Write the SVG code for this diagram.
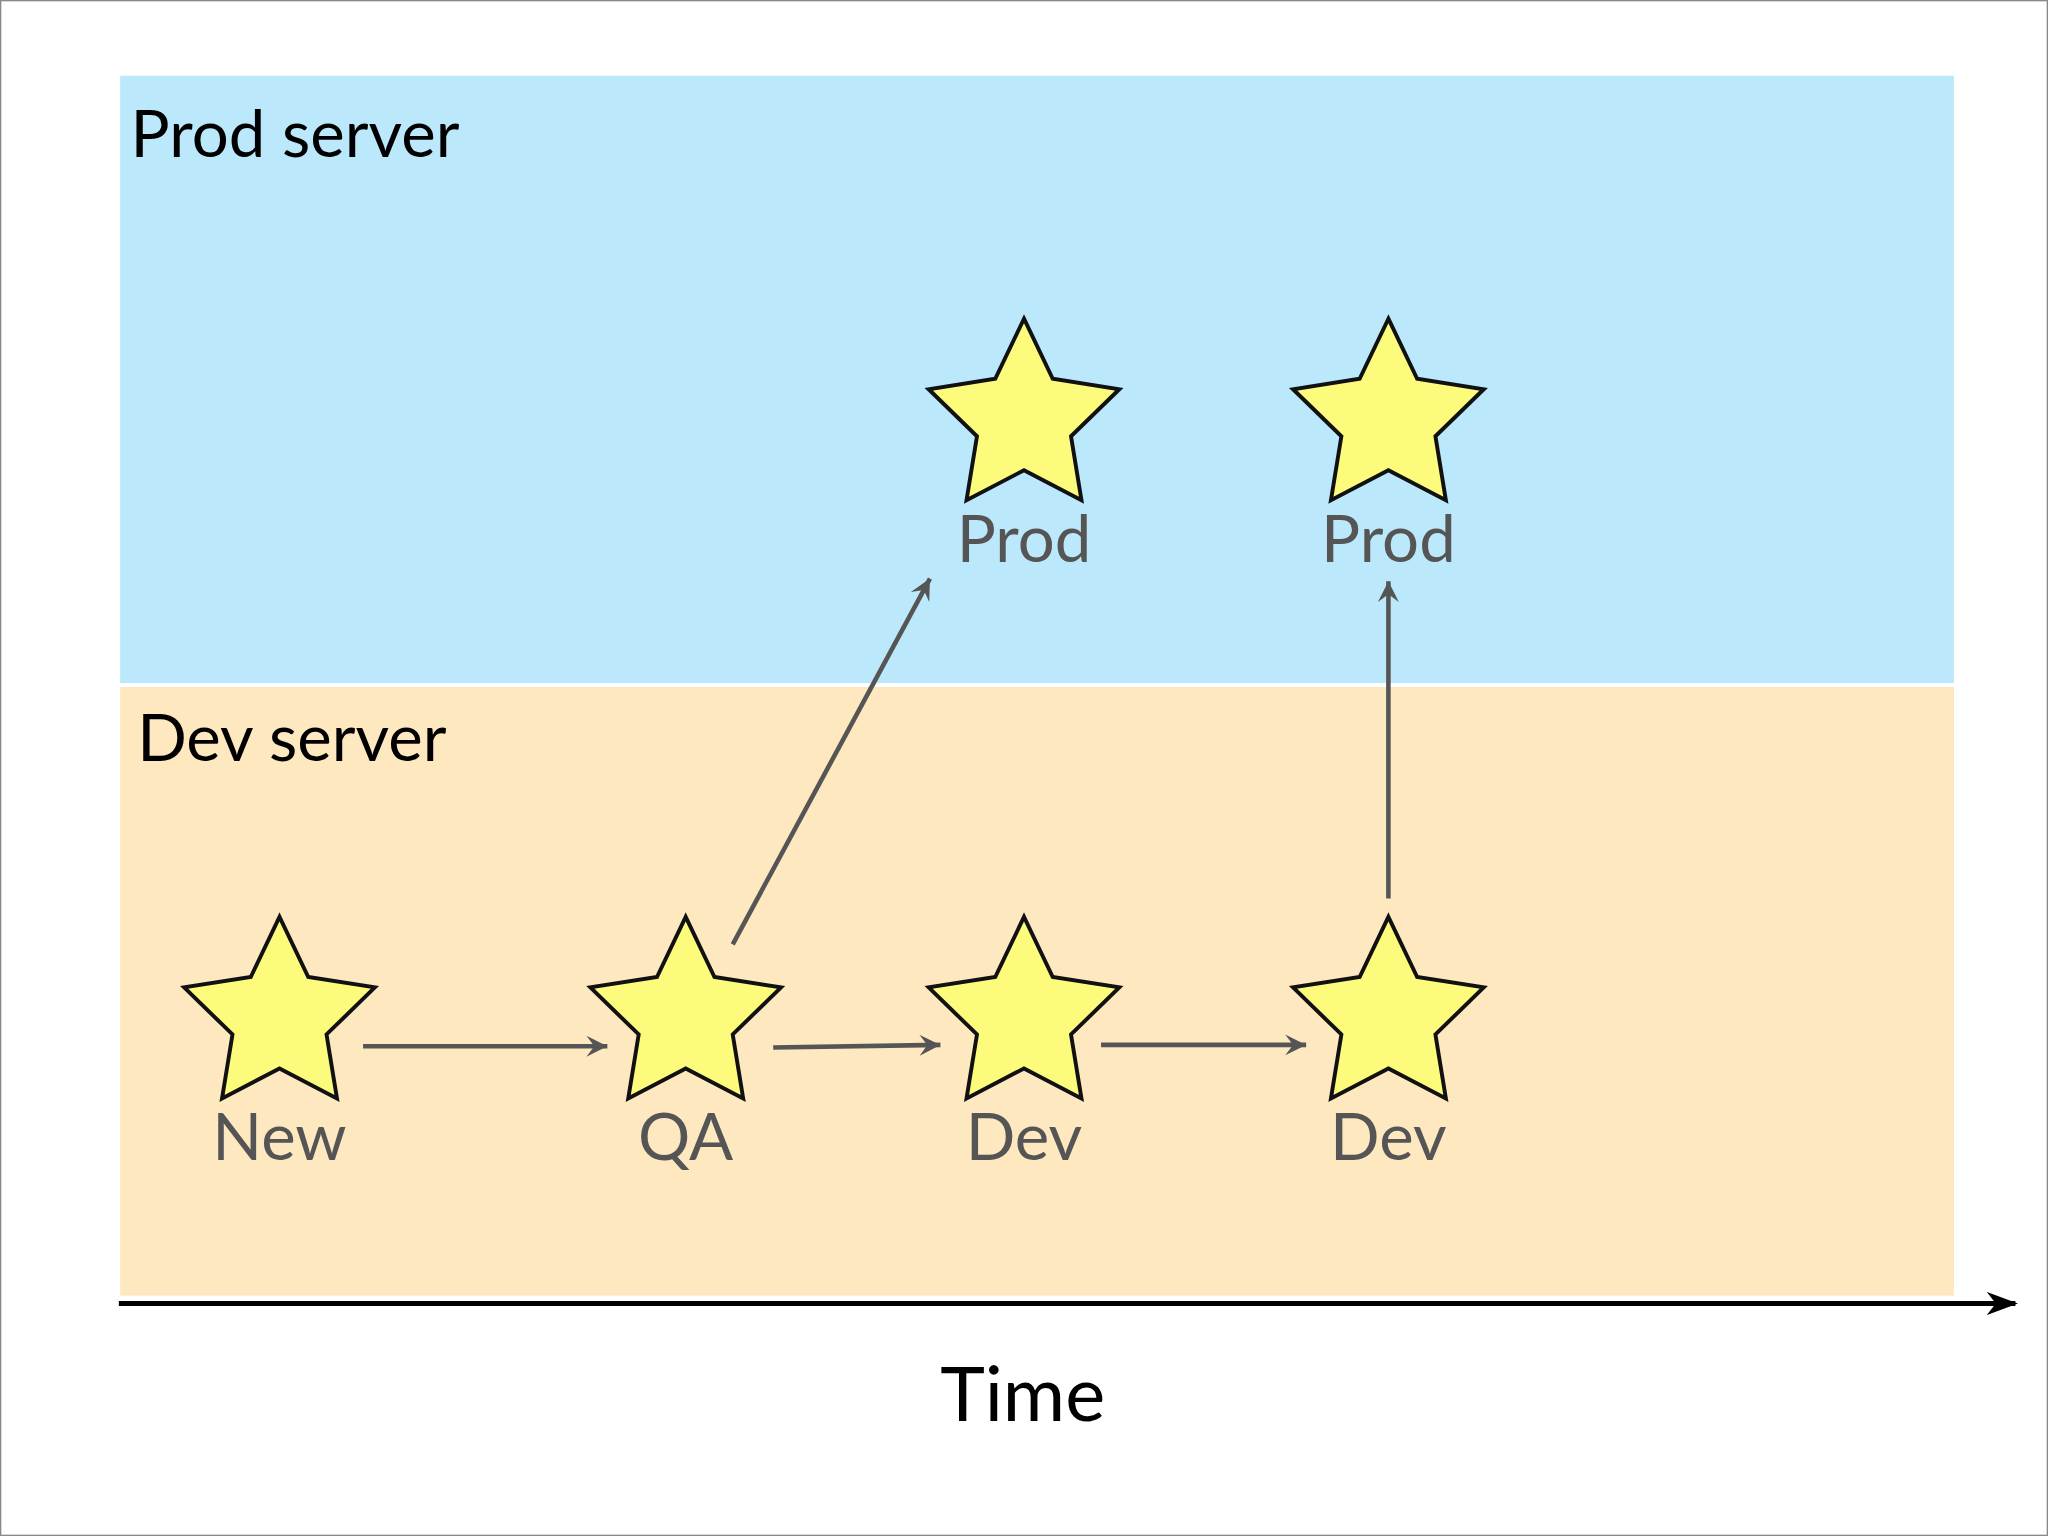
<svg xmlns="http://www.w3.org/2000/svg" width="2048" height="1536" viewBox="0 0 2048 1536">
<style>
.lane{font-family:Lato,"Open Sans",sans-serif;font-size:50px;fill:#000}
.lbl{font-family:Lato,"Open Sans",sans-serif;font-size:50px;fill:#555;text-anchor:middle}
.star{fill:#fdfb7c;stroke:#111;stroke-width:3;stroke-linejoin:miter}
.c{stroke:#555;stroke-width:3.5;fill:none;marker-end:url(#a)}
</style>
<defs>
<marker id="a" viewBox="0 0 20 20" refX="18" refY="10" markerWidth="20" markerHeight="20" markerUnits="userSpaceOnUse" orient="auto">
<path d="M2,2 L18,10 L2,18 L8,10 Z" fill="#555"/>
</marker>
<marker id="t" viewBox="0 0 24 20" refX="22" refY="10" markerWidth="24" markerHeight="20" markerUnits="userSpaceOnUse" orient="auto">
<path d="M0,1 L24,10 L0,19 L7,10 Z" fill="#000"/>
</marker>
<path id="s" class="star" d="M0,0 L22,46 L73,54 L36,90 L44,139 L0,116 L-44,139 L-36,90 L-73,54 L-22,46 Z"/>
</defs>
<rect width="2048" height="1536" fill="#fff"/>
<g transform="scale(1.30612)">
<rect x="0.5" y="0.5" width="1567" height="1175" fill="none" stroke="#888" stroke-width="1"/>
<g id="prod-lane"><rect x="92" y="58" width="1404" height="465" fill="#bbe9fb"/><text class="lane" x="100" y="120">Prod server</text></g>
<g id="dev-lane"><rect x="92" y="526" width="1404" height="466" fill="#fde8c0"/><text class="lane" x="105" y="583">Dev server</text></g>
<g id="n-new"><use href="#s" x="214" y="702"/><text class="lbl" x="214" y="888">New</text></g>
<g id="n-qa"><use href="#s" x="525" y="702"/><text class="lbl" x="525" y="888">QA</text></g>
<g id="n-dev1"><use href="#s" x="784" y="702"/><text class="lbl" x="784" y="888">Dev</text></g>
<g id="n-dev2"><use href="#s" x="1063" y="702"/><text class="lbl" x="1063" y="888">Dev</text></g>
<g id="n-prod1"><use href="#s" x="784" y="244"/><text class="lbl" x="784" y="430">Prod</text></g>
<g id="n-prod2"><use href="#s" x="1063" y="244"/><text class="lbl" x="1063" y="430">Prod</text></g>
<g id="connectors">
<line class="c" x1="278" y1="801" x2="465" y2="801"/>
<line class="c" x1="592" y1="802" x2="720" y2="800"/>
<line class="c" x1="843" y1="800" x2="1000" y2="800"/>
<line class="c" x1="561" y1="723" x2="712" y2="443"/>
<line class="c" x1="1063" y1="688" x2="1063" y2="445"/>
<line x1="91" y1="998" x2="1543" y2="998" stroke="#000" stroke-width="4" marker-end="url(#t)"/>
</g>
<text x="783" y="1088" font-family="Lato,'Open Sans',sans-serif" font-size="58" text-anchor="middle" fill="#000">Time</text>
</g>
</svg>
